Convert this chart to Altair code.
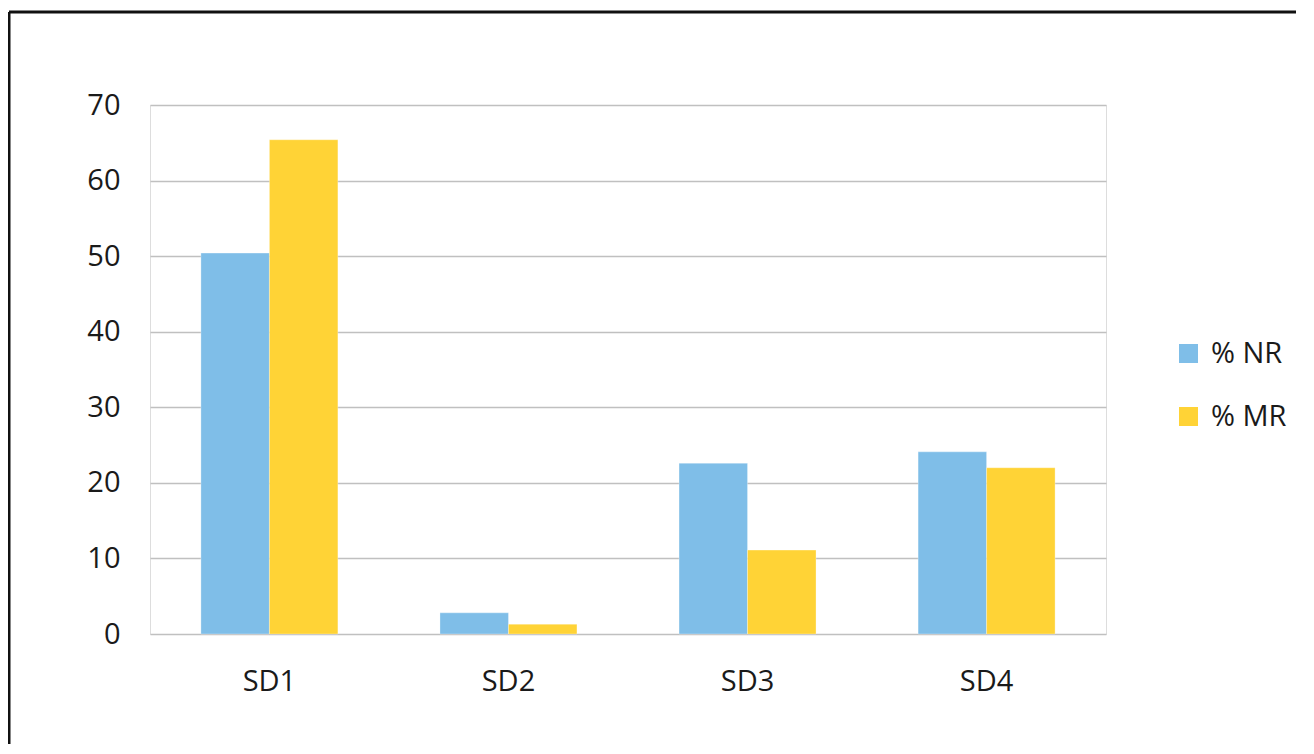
import altair as alt
import pandas as pd

categories = ["SD1", "SD2", "SD3", "SD4"]
series_names = ["% NR", "% MR"]
nr_values = [50.4, 2.8, 22.6, 24.1]
mr_values = [65.4, 1.3, 11.1, 22.0]
colors = ["#7FBEE8", "#FFD336"]

rows = []
for c, v in zip(categories, nr_values):
    rows.append({"cat": c, "series": series_names[0], "value": v})
for c, v in zip(categories, mr_values):
    rows.append({"cat": c, "series": series_names[1], "value": v})
df = pd.DataFrame(rows)

FONT = "Open Sans"
FS = 29
W, H = 956, 529

bars = alt.Chart(df).mark_bar(stroke="white", strokeWidth=0.5, strokeOpacity=0.6).encode(
    x=alt.X("cat:N", sort=categories, title=None,
            scale=alt.Scale(paddingInner=0.427, paddingOuter=0.213),
            axis=alt.Axis(labelAngle=0, ticks=False, domain=False, labelPadding=33,
                          labelFontSize=FS, labelFont=FONT, labelColor="#1a1a1a")),
    xOffset=alt.XOffset("series:N", sort=series_names, scale=alt.Scale(paddingInner=0, paddingOuter=0)),
    y=alt.Y("value:Q", title=None,
            scale=alt.Scale(domain=[0, 70], nice=False),
            axis=alt.Axis(values=[0, 10, 20, 30, 40, 50, 60, 70], ticks=False, domain=False,
                          labelPadding=30, labelFontSize=FS, labelFont=FONT, labelColor="#1a1a1a",
                          grid=True, gridColor="#C0C0C0", gridWidth=1.5)),
    color=alt.Color("series:N", sort=series_names,
                    scale=alt.Scale(domain=series_names, range=colors),
                    legend=alt.Legend(title=None, orient="none", legendX=1024, legendY=234,
                                      symbolType="square", symbolSize=361, symbolStrokeWidth=0,
                                      labelFontSize=FS, labelFont=FONT, labelColor="#1a1a1a",
                                      rowPadding=33, labelOffset=8)),
)

frame_df = pd.DataFrame({"k": [0]})
top_line = alt.Chart(frame_df).mark_rule(color="#111111", strokeWidth=3).encode(
    x=alt.value(-141), x2=alt.value(1300), y=alt.value(-93))
left_line = alt.Chart(frame_df).mark_rule(color="#111111", strokeWidth=3).encode(
    x=alt.value(-141), y=alt.value(-93), y2=alt.value(700))

chart = alt.layer(bars, top_line, left_line).properties(
    width=W, height=H,
    autosize=alt.AutoSizeParams(type="none"),
    padding={"left": 142, "top": 97, "right": 190, "bottom": 110},
).configure_view(stroke="#C0C0C0", strokeWidth=1.5).configure(background="white")

chart.save("out.html", embed_options={"renderer": "svg", "actions": False})
